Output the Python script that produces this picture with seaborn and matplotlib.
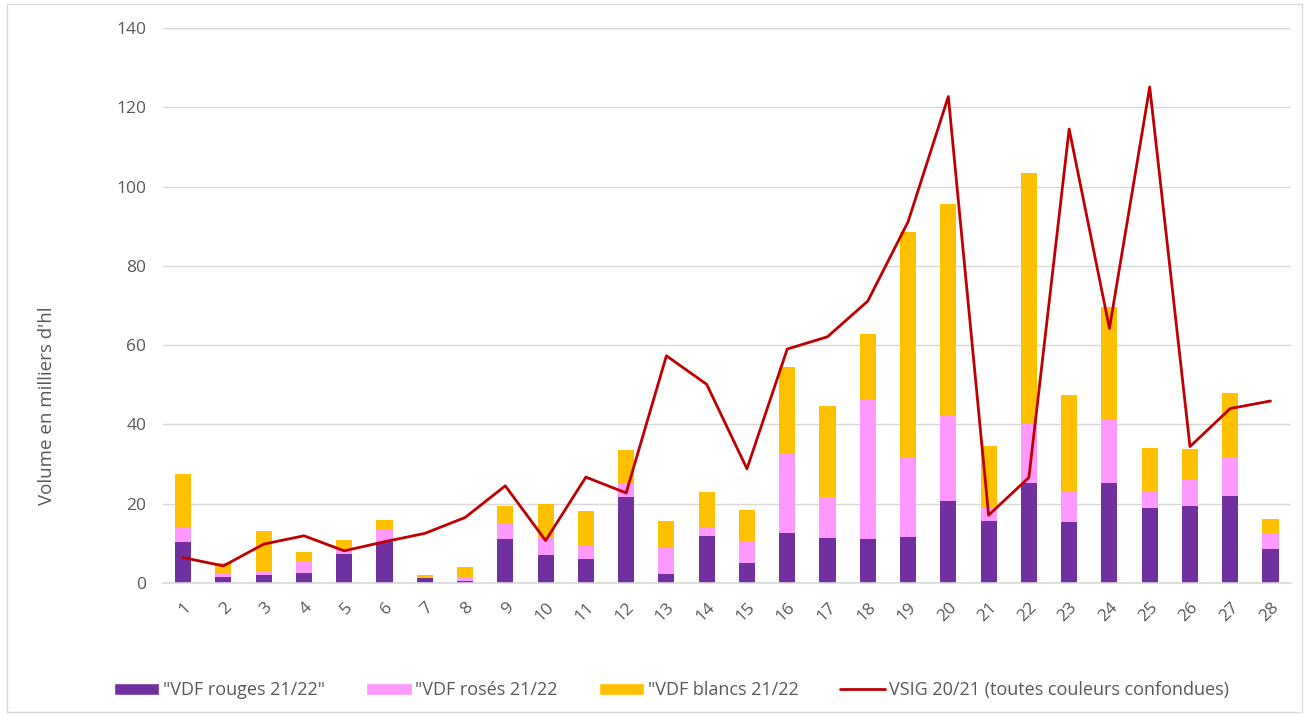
import numpy as np
import pandas as pd
import matplotlib
matplotlib.use("Agg")
import matplotlib.pyplot as plt
from matplotlib.patches import Patch, Rectangle
from matplotlib.lines import Line2D
import seaborn as sns

# semaines / catégories
semaines = [str(i) for i in range(1, 29)]

# volumes en milliers d'hl
vdf_rouges = [10.4, 1.5, 2.0, 2.6, 7.2, 10.4, 1.35, 0.5, 11.1, 7.1, 6.1, 21.7, 2.3, 11.9,
              5.0, 12.6, 11.4, 11.2, 11.5, 20.6, 15.7, 25.2, 15.4, 25.2, 19.0, 19.5, 21.9, 8.5]
vdf_roses = [3.6, 0.95, 0.9, 2.9, 1.1, 3.1, 0.25, 1.0, 4.0, 4.4, 3.2, 3.4, 6.45, 2.1,
             5.4, 19.9, 10.3, 35.0, 19.9, 21.8, 3.2, 14.9, 7.5, 15.9, 4.3, 6.5, 9.5, 4.1]
vdf_blancs = [13.4, 2.65, 10.2, 2.3, 2.5, 2.4, 0.4, 2.5, 4.3, 8.3, 8.8, 8.5, 6.85, 9.0,
              7.9, 21.9, 23.0, 16.6, 57.0, 53.2, 15.6, 63.4, 24.5, 28.6, 10.8, 7.8, 16.5, 3.5]
vsig_2021 = [6.4, 4.3, 9.8, 11.9, 8.1, 10.4, 12.5, 16.5, 24.5, 10.7, 26.7, 22.7, 57.3, 50.1,
             28.8, 59.0, 62.1, 71.1, 91.1, 122.7, 17.1, 26.6, 114.5, 64.2, 125.1, 34.4, 44.0, 45.9]

labels = ['"VDF rouges 21/22"', '"VDF rosés 21/22', '"VDF blancs 21/22',
          'VSIG 20/21 (toutes couleurs confondues)']

c_rouge = "#7030A0"
c_rose = "#FF99FF"
c_blanc = "#FFC000"
c_ligne = "#C00000"
gris = "#595959"

df = pd.DataFrame({"semaine": semaines, "rouges": vdf_rouges,
                   "roses": vdf_roses, "blancs": vdf_blancs, "vsig": vsig_2021})
df["cum_roses"] = df["rouges"] + df["roses"]
df["cum_blancs"] = df["cum_roses"] + df["blancs"]

sns.set_style("white")
plt.rcParams["font.family"] = ["Open Sans", "DejaVu Sans"]

fig = plt.figure(figsize=(13.09, 7.16), dpi=100)
ax = fig.add_axes([0.1245, 0.1858, 0.8615, 0.7752])

# stacked bars drawn as overlapping cumulative totals
for col, color in [("cum_blancs", c_blanc), ("cum_roses", c_rose), ("rouges", c_rouge)]:
    sns.barplot(data=df, x="semaine", y=col, color=color, saturation=1, width=0.4,
                linewidth=0, ax=ax, order=semaines)

sns.lineplot(x=np.arange(len(semaines)), y=df["vsig"], color=c_ligne, linewidth=2,
             ax=ax, legend=False)

ax.set_xlim(-0.5, len(semaines) - 0.5)
ax.set_ylim(0, 140)
ax.set_yticks(range(0, 141, 20))
ax.yaxis.grid(True, color="#D9D9D9", linewidth=1)
ax.set_axisbelow(True)
for s in ["top", "right", "left"]:
    ax.spines[s].set_visible(False)
ax.spines["bottom"].set_color("#D9D9D9")
ax.spines["bottom"].set_linewidth(1.2)

ax.set_xticks(np.arange(len(semaines)))
ax.set_xticklabels(semaines, rotation=45, ha="right", rotation_mode="anchor")
ax.set_xticks(np.arange(-0.5, len(semaines)), minor=True)
ax.tick_params(axis="x", which="major", length=0, pad=12, labelsize=12.5, labelcolor=gris)
ax.tick_params(axis="x", which="minor", length=5, color="#D9D9D9", width=1.2)
ax.tick_params(axis="y", length=0, pad=12, labelsize=12.5, labelcolor=gris)

ax.set_xlabel("")
ax.set_ylabel("Volume en milliers d'hl", fontsize=13.5, color=gris)
ax.yaxis.set_label_coords(-0.095, 0.32)

handles = [Patch(facecolor=c_rouge), Patch(facecolor=c_rose), Patch(facecolor=c_blanc),
           Line2D([0], [0], color=c_ligne, linewidth=2)]
fig.legend(handles, labels, loc="center", bbox_to_anchor=(0.513, 0.036), ncol=4,
           frameon=False, fontsize=13, labelcolor=gris, handlelength=2.5,
           handleheight=0.7, columnspacing=2.3, handletextpad=0.2)

fig.patches.append(Rectangle((0.005, 0.006), 0.99, 0.988, transform=fig.transFigure,
                             fill=False, edgecolor="#D9D9D9", linewidth=1))

fig.savefig("out.png", dpi=100)
